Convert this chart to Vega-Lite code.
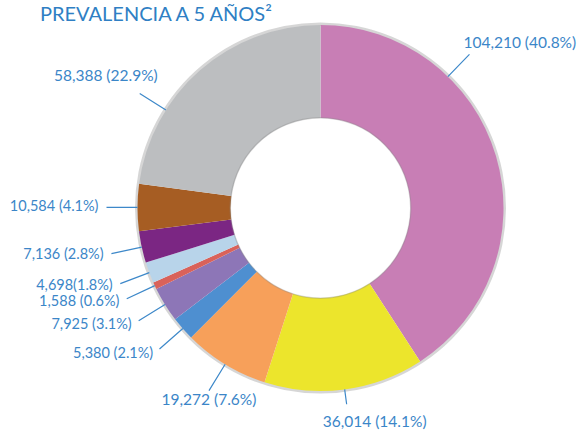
{
  "$schema": "https://vega.github.io/schema/vega-lite/v6.json",
  "width": 529,
  "height": 356,
  "autosize": {"type": "none"},
  "padding": {"left": 56, "top": 30, "right": 0, "bottom": 52},
  "background": "white",
  "title": {"text": "PREVALENCIA A 5 AÑOS²", "anchor": "start", "frame": "group", "font": "Lato", "fontSize": 20, "fontWeight": "normal", "color": "#2f7fc4", "dx": -16, "dy": 4, "offset": 2},
  "config": {"view": {"stroke": null}},
  "data": {"values": [
    {"idx": 1, "grupo": "Grupo 1", "value": 104210, "label": "104,210 (40.8%)"},
    {"idx": 2, "grupo": "Grupo 2", "value": 36014, "label": "36,014 (14.1%)"},
    {"idx": 3, "grupo": "Grupo 3", "value": 19272, "label": "19,272 (7.6%)"},
    {"idx": 4, "grupo": "Grupo 4", "value": 5380, "label": "5,380 (2.1%)"},
    {"idx": 5, "grupo": "Grupo 5", "value": 7925, "label": "7,925 (3.1%)"},
    {"idx": 6, "grupo": "Grupo 6", "value": 1588, "label": "1,588 (0.6%)"},
    {"idx": 7, "grupo": "Grupo 7", "value": 4698, "label": "4,698(1.8%)"},
    {"idx": 8, "grupo": "Grupo 8", "value": 7136, "label": "7,136 (2.8%)"},
    {"idx": 9, "grupo": "Grupo 9", "value": 10584, "label": "10,584 (4.1%)"},
    {"idx": 10, "grupo": "Grupo 10", "value": 58388, "label": "58,388 (22.9%)"}
  ]},
  "transform": [
    {"window": [{"op": "sum", "field": "value", "as": "cum"}], "sort": [{"field": "idx"}], "frame": [null, 0]},
    {"joinaggregate": [{"op": "sum", "field": "value", "as": "total"}]},
    {"calculate": "datum.value / datum.total > 0.2 ? datum.cum - 0.7 * datum.value : datum.cum - datum.value / 2", "as": "la"},
    {"calculate": "360 * datum.la / datum.total", "as": "ladeg"}
  ],
  "layer": [
    {
      "transform": [{"aggregate": [{"op": "sum", "field": "value", "as": "t"}]}],
      "mark": {"type": "arc", "radius": 185.5, "radius2": 182, "color": "#8a8a8a", "opacity": 0.35},
      "encoding": {"theta": {"field": "t", "type": "quantitative", "stack": true}}
    },
    {
      "mark": {"type": "arc", "radius": 183, "radius2": 90},
      "encoding": {
        "theta": {"field": "value", "type": "quantitative", "stack": true, "scale": {"domain": [0, 255195]}},
        "order": {"field": "idx", "type": "quantitative"},
        "color": {"field": "grupo", "type": "nominal", "legend": null,
          "scale": {"domain": ["Grupo 1", "Grupo 2", "Grupo 3", "Grupo 4", "Grupo 5", "Grupo 6", "Grupo 7", "Grupo 8", "Grupo 9", "Grupo 10"],
                    "range": ["#c87eb5", "#ece52c", "#f7a05a", "#4e8fd0", "#8d76b7", "#d9625a", "#b8d4ea", "#7b2683", "#a65d23", "#bcbec0"]}}
      }
    },
    {
      "transform": [{"aggregate": [{"op": "sum", "field": "value", "as": "t"}]}],
      "mark": {"type": "arc", "radius": 91, "radius2": 89.5, "color": "#8a8a8a", "opacity": 0.35},
      "encoding": {"theta": {"field": "t", "type": "quantitative", "stack": true}}
    },
    {
      "transform": [{"filter": "datum.ladeg < 150 || datum.ladeg >= 190"}],
      "mark": {"type": "arc", "radius": 214, "radius2": 183, "filled": false, "color": "#3d88c9", "strokeWidth": 1.2},
      "encoding": {
        "theta": {"field": "la", "type": "quantitative", "stack": null},
        "theta2": {"field": "la"}
      }
    },
    {
      "transform": [{"filter": "datum.ladeg >= 150 && datum.ladeg < 190"}],
      "mark": {"type": "arc", "radius": 198, "radius2": 183, "filled": false, "color": "#3d88c9", "strokeWidth": 1.2},
      "encoding": {
        "theta": {"field": "la", "type": "quantitative", "stack": null},
        "theta2": {"field": "la"}
      }
    },
    {
      "transform": [{"filter": "datum.ladeg < 90"}],
      "mark": {"type": "text", "radius": 214, "align": "left", "baseline": "bottom", "dx": -6, "dy": -3, "font": "Lato", "fontSize": 15.5, "color": "#3b86c8"},
      "encoding": {"theta": {"field": "la", "type": "quantitative", "stack": null}, "text": {"field": "label"}}
    },
    {
      "transform": [{"filter": "datum.ladeg >= 150 && datum.ladeg < 190"}],
      "mark": {"type": "text", "radius": 214, "align": "left", "baseline": "top", "dx": -26, "dy": -5, "font": "Lato", "fontSize": 15.5, "color": "#3b86c8"},
      "encoding": {"theta": {"field": "la", "type": "quantitative", "stack": null}, "text": {"field": "label"}}
    },
    {
      "transform": [{"filter": "datum.ladeg >= 190 && datum.ladeg < 225"}],
      "mark": {"type": "text", "radius": 214, "align": "center", "baseline": "top", "dy": 2, "font": "Lato", "fontSize": 15.5, "color": "#3b86c8"},
      "encoding": {"theta": {"field": "la", "type": "quantitative", "stack": null}, "text": {"field": "label"}}
    },
    {
      "transform": [{"filter": "datum.ladeg >= 225 && datum.ladeg < 290"}],
      "mark": {"type": "text", "radius": 221, "align": "right", "baseline": "middle", "dx": -1, "font": "Lato", "fontSize": 14.5, "color": "#3b86c8"},
      "encoding": {"theta": {"field": "la", "type": "quantitative", "stack": null}, "text": {"field": "label"}}
    },
    {
      "transform": [{"filter": "datum.ladeg >= 290"}],
      "mark": {"type": "text", "radius": 214, "align": "right", "baseline": "bottom", "dx": 18, "dy": -10, "font": "Lato", "fontSize": 15.5, "color": "#3b86c8"},
      "encoding": {"theta": {"field": "la", "type": "quantitative", "stack": null}, "text": {"field": "label"}}
    }
  ]
}
